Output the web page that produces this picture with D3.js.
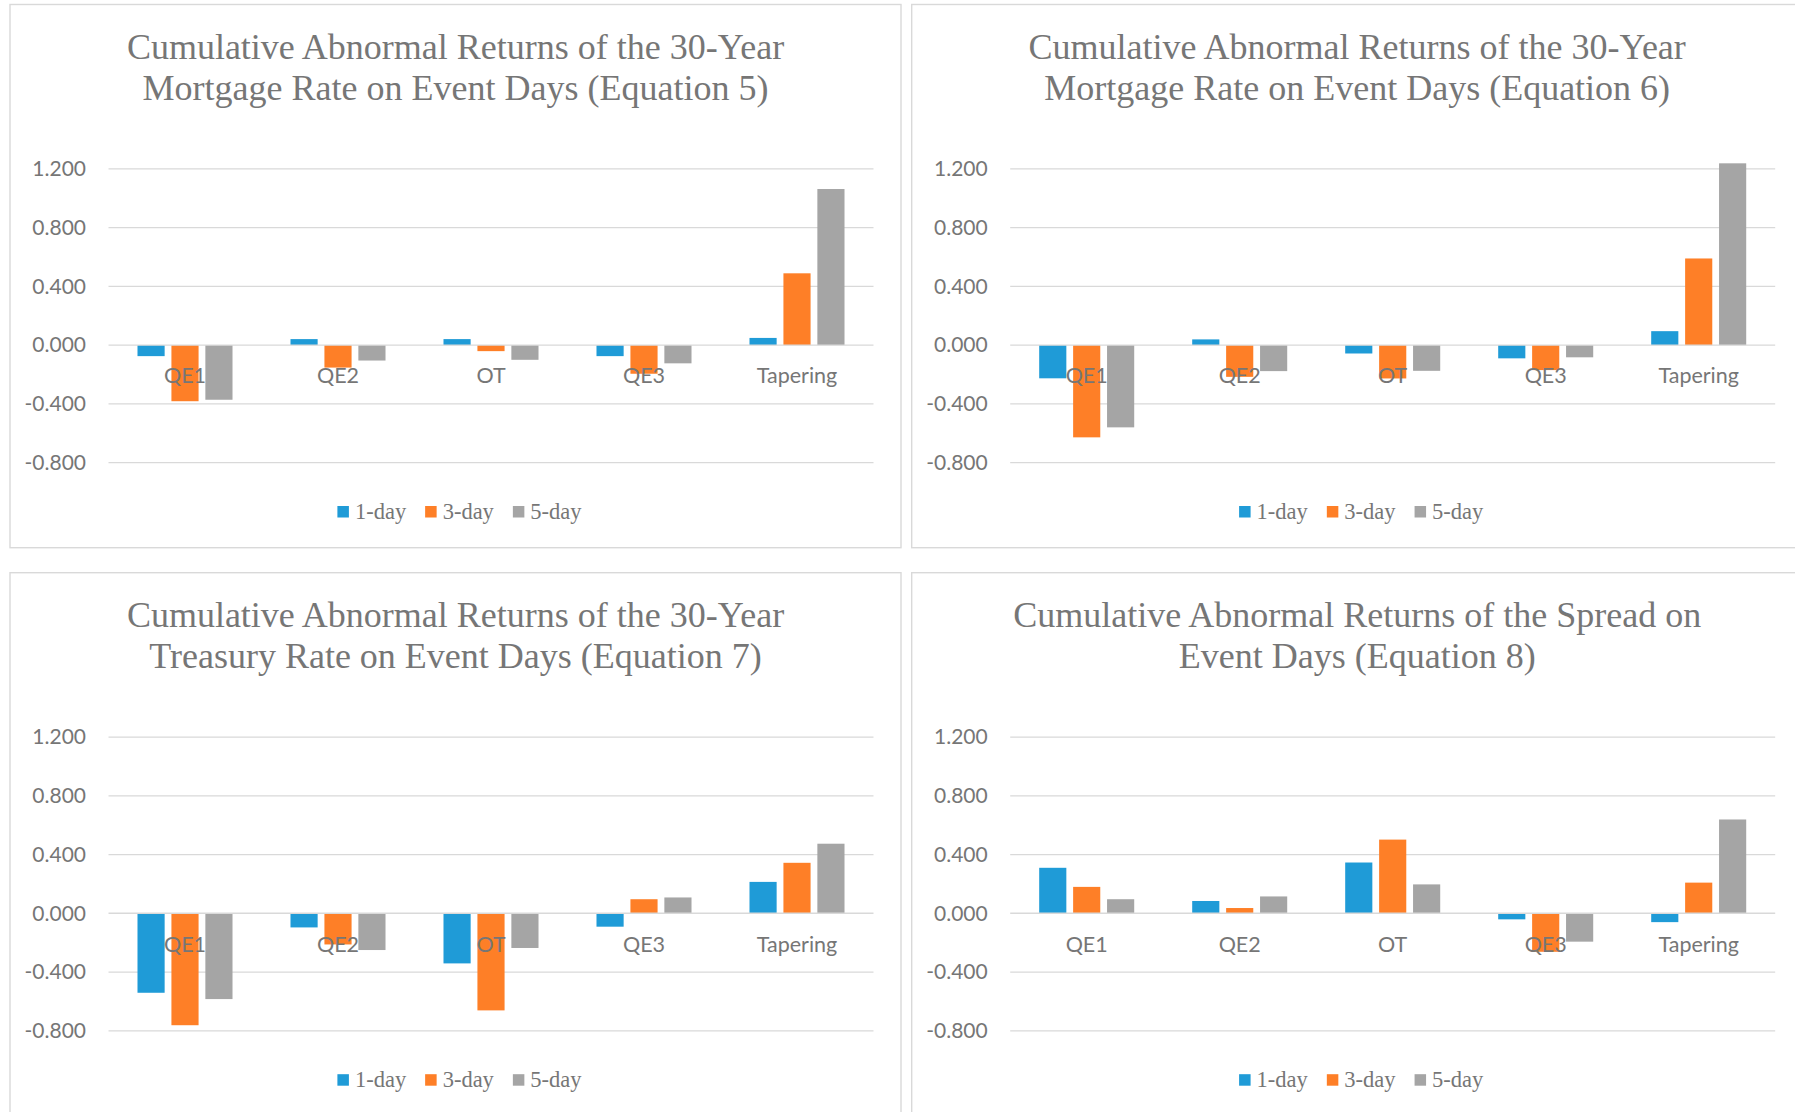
<!DOCTYPE html>
<html>
<head>
<meta charset="utf-8">
<script src="https://cdn.jsdelivr.net/npm/d3@7"></script>
<style>
  html, body { margin: 0; padding: 0; background: #ffffff; }
  svg { display: block; }
</style>
</head>
<body>
<svg id="chart" width="1795" height="1112"></svg>
<script>
// ---------- DATA ----------
const categories = ["QE1", "QE2", "OT", "QE3", "Tapering"];
const seriesNames = ["1-day", "3-day", "5-day"];
const yTicks = [-0.8, -0.4, 0, 0.4, 0.8, 1.2];

const titleEq5 = ["Cumulative Abnormal Returns of the 30-Year", "Mortgage Rate on Event Days (Equation 5)"];
const titleEq6 = ["Cumulative Abnormal Returns of the 30-Year", "Mortgage Rate on Event Days (Equation 6)"];
const titleEq7 = ["Cumulative Abnormal Returns of the 30-Year", "Treasury Rate on Event Days (Equation 7)"];
const titleEq8 = ["Cumulative Abnormal Returns of the Spread on", "Event Days (Equation 8)"];

const eq5OneDay   = [-0.075,  0.041,  0.041, -0.075, 0.049];
const eq5ThreeDay = [-0.382, -0.153, -0.041, -0.195, 0.489];
const eq5FiveDay  = [-0.372, -0.105, -0.100, -0.124, 1.063];

const eq6OneDay   = [-0.226,  0.039, -0.057, -0.090, 0.095];
const eq6ThreeDay = [-0.628, -0.216, -0.227, -0.170, 0.590];
const eq6FiveDay  = [-0.560, -0.177, -0.175, -0.083, 1.238];

const eq7OneDay   = [-0.541, -0.096, -0.341, -0.091, 0.214];
const eq7ThreeDay = [-0.762, -0.212, -0.661,  0.096, 0.344];
const eq7FiveDay  = [-0.584, -0.250, -0.236,  0.108, 0.474];

const eq8OneDay   = [ 0.310,  0.084,  0.346, -0.041, -0.060];
const eq8ThreeDay = [ 0.180,  0.036,  0.502, -0.262,  0.209];
const eq8FiveDay  = [ 0.096,  0.115,  0.197, -0.193,  0.639];

const seriesColors = ["#1f9bd7", "#fe7f27", "#a5a5a5"];

// ---------- CHARTS ----------
const charts = [
  { title: titleEq5, series: [eq5OneDay, eq5ThreeDay, eq5FiveDay], px: 10,    py: 4.5,   h: 543.2 },
  { title: titleEq6, series: [eq6OneDay, eq6ThreeDay, eq6FiveDay], px: 911.7, py: 4.5,   h: 543.2 },
  { title: titleEq7, series: [eq7OneDay, eq7ThreeDay, eq7FiveDay], px: 10,    py: 572.7, h: 600 },
  { title: titleEq8, series: [eq8OneDay, eq8ThreeDay, eq8FiveDay], px: 911.7, py: 572.7, h: 600 }
];

const svg = d3.select("#chart");
const textGray = "#767676";
const gridColor = "#d9d9d9";
const serif = "'Liberation Serif', 'Times New Roman', serif";
const sans = "Lato, 'Open Sans', sans-serif";
const fmt3 = d3.format(".3f");
const fmt = v => fmt3(v).replace("\u2212", "-");

const panelW = 891;
const plotLeft = 98.5, plotW = 765;

charts.forEach(c => {
  const g = svg.append("g").attr("transform", `translate(${c.px},${c.py})`);

  g.append("rect")
    .attr("x", 0).attr("y", 0).attr("width", panelW).attr("height", c.h)
    .attr("fill", "#ffffff").attr("stroke", gridColor).attr("stroke-width", 1.4);

  // title
  g.append("text")
    .attr("text-anchor", "middle")
    .attr("font-family", serif).attr("font-size", 36).attr("fill", textGray)
    .selectAll("tspan").data(c.title).join("tspan")
      .attr("x", panelW / 2)
      .attr("y", (d, i) => 54 + i * 41.5)
      .text(d => d);

  const y = d3.scaleLinear().domain([-0.8, 1.2]).range([458.1, 164.4]);
  const x0 = d3.scaleBand().domain(categories).range([plotLeft, plotLeft + plotW])
    .paddingInner(0.379).paddingOuter(0.1895);
  const x1 = d3.scaleBand().domain(seriesNames).range([0, x0.bandwidth()])
    .paddingInner(0.2).paddingOuter(0);

  // gridlines
  g.append("g").selectAll("line").data(yTicks.filter(t => t !== 0)).join("line")
    .attr("x1", plotLeft).attr("x2", plotLeft + plotW)
    .attr("y1", d => y(d)).attr("y2", d => y(d))
    .attr("stroke", gridColor).attr("stroke-width", 1.3);

  // y axis labels
  const ya = g.append("g").attr("transform", `translate(${plotLeft},0)`)
    .call(d3.axisLeft(y).tickValues(yTicks).tickFormat(fmt).tickSize(0).tickPadding(22.5));
  ya.select(".domain").remove();
  ya.selectAll("text").attr("font-family", sans).attr("font-size", 21).attr("fill", textGray);

  // bars
  const rows = [];
  c.series.forEach((vals, si) => {
    vals.forEach((v, ci) => rows.push({ cat: categories[ci], s: seriesNames[si], si, v }));
  });
  g.append("g").selectAll("rect").data(rows).join("rect")
    .attr("x", d => x0(d.cat) + x1(d.s))
    .attr("width", x1.bandwidth())
    .attr("y", d => y(Math.max(0, d.v)))
    .attr("height", d => Math.abs(y(d.v) - y(0)))
    .attr("fill", d => seriesColors[d.si]);

  // zero line
  g.append("line")
    .attr("x1", plotLeft).attr("x2", plotLeft + plotW)
    .attr("y1", y(0)).attr("y2", y(0))
    .attr("stroke", gridColor).attr("stroke-width", 1.4);

  // category axis labels
  const xa = g.append("g").attr("transform", `translate(0,${y(0)})`)
    .call(d3.axisBottom(x0).tickSize(0).tickPadding(23));
  xa.select(".domain").remove();
  xa.selectAll("text").attr("font-family", sans).attr("font-size", 21.5).attr("fill", textGray);

  // legend
  const lg = g.append("g");
  const items = lg.selectAll("g").data(seriesNames).join("g");
  items.append("rect").attr("width", 11.5).attr("height", 11.5).attr("y", 501.5)
    .attr("fill", (d, i) => seriesColors[i]);
  items.append("text").attr("x", 17.5).attr("y", 514.5)
    .attr("font-family", serif).attr("font-size", 22.5).attr("fill", textGray)
    .text(d => d);
  let cursor = 0;
  const gapBetween = 19;
  items.each(function () {
    const w = 17.5 + d3.select(this).select("text").node().getComputedTextLength();
    d3.select(this).attr("transform", `translate(${cursor},0)`);
    cursor += w + gapBetween;
  });
  const totalW = cursor - gapBetween;
  lg.attr("transform", `translate(${449.5 - totalW / 2},0)`);
});
</script>
</body>
</html>
